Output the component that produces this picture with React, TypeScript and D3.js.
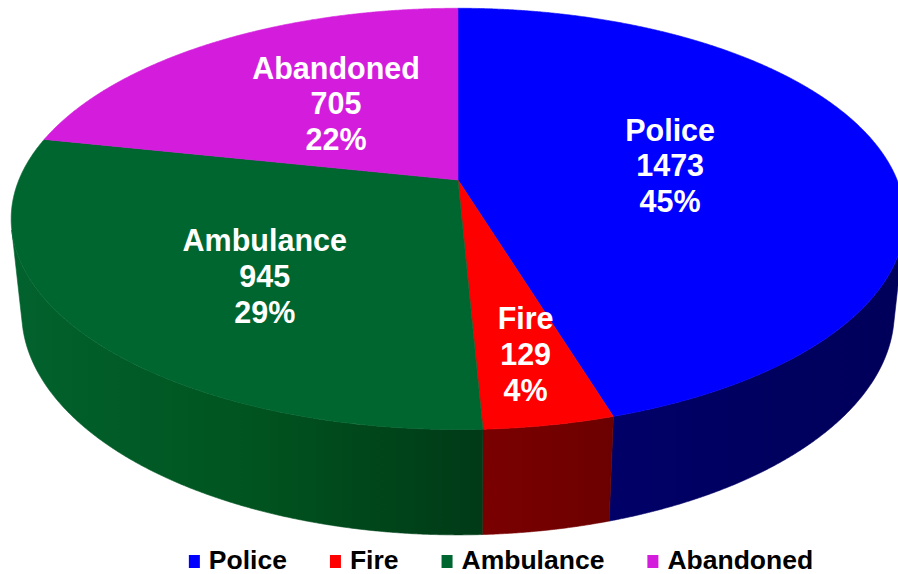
import React, { useRef, useEffect } from "react";
import * as d3 from "d3";

// chart data
const categories = ["Police", "Fire", "Ambulance", "Abandoned"];
const values = [1473, 129, 945, 705];

// styling per slice
const topColors = ["#0000FF", "#FF0000", "#006630", "#D41CDC"];
const wallStops = [
    ["#000068", "#000060", "#00005A"],
    ["#7A0000", "#740000", "#6C0000"],
    ["#02622D", "#00541F", "#003A17"],
    ["#8A1090", "#7C0C82", "#700A76"],
];
// where each label sits: fraction of radius, plus a small vertical nudge
const labelRadius = [0.495, 0.777, 0.54, 0.471];
const labelShiftY = [0, -7.5, 20, -7];

const W = 898;
const H = 574;
const FONT = "'Liberation Sans', Arial, sans-serif";

export default function App() {
    const svgRef = useRef<SVGSVGElement>(null);

    useEffect(() => {
        if (!svgRef.current) return;
        const svg = d3.select(svgRef.current);
        svg.selectAll("*").remove();

        // perspective camera for the tilted disc (unit radius)
        const cx = 458, cy = 180;
        const focal = 2107;
        const tilt = 27.6 * Math.PI / 180;
        const dist = 4.798;
        const thick = 0.242;
        const c = Math.cos(tilt), s = Math.sin(tilt);

        const project = (r: number, phi: number, h: number): [number, number] => {
            const X = r * Math.sin(phi);
            const Z = r * Math.cos(phi);
            const yc = h * c + Z * s;
            const depth = dist + Z * c - h * s;
            return [cx + focal * X / depth, cy - focal * yc / depth];
        };

        const total = d3.sum(values);
        const pie = d3.pie<number>().sort(null).startAngle(0).endAngle(2 * Math.PI);
        const arcs = pie(values);

        const step = Math.PI / 720;
        const sampleArc = (a0: number, a1: number, h: number) => {
            const n = Math.max(2, Math.ceil((a1 - a0) / step));
            return d3.range(n + 1).map(i => project(1, a0 + (a1 - a0) * i / n, h));
        };
        const line = d3.line<[number, number]>();

        const defs = svg.append("defs");

        // visible part of the outer wall
        const limit = Math.acos(-1 / (dist * c));
        const visA = limit, visB = 2 * Math.PI - limit;

        const walls = svg.append("g");
        arcs.forEach((a, i) => {
            const a0 = Math.max(a.startAngle, visA);
            const a1 = Math.min(a.endAngle, visB);
            if (a1 <= a0) return;
            const top = sampleArc(a0, a1, 0);
            const bottom = sampleArc(a0, a1, -thick).reverse();
            const pts = top.concat(bottom);
            const xs = pts.map(p => p[0]);
            const gid = `wall-${i}`;
            const grad = defs.append("linearGradient")
                .attr("id", gid)
                .attr("gradientUnits", "userSpaceOnUse")
                .attr("x1", d3.min(xs)!)
                .attr("x2", d3.max(xs)!)
                .attr("y1", 0)
                .attr("y2", 0);
            wallStops[i].forEach((col, k) => {
                grad.append("stop")
                    .attr("offset", k / (wallStops[i].length - 1))
                    .attr("stop-color", col);
            });
            walls.append("path")
                .attr("d", line(pts) + "Z")
                .attr("fill", `url(#${gid})`)
                .attr("stroke", `url(#${gid})`)
                .attr("stroke-width", 0.6);
        });

        // top faces
        const tops = svg.append("g");
        arcs.forEach((a, i) => {
            const pts = [project(0, 0, 0)].concat(sampleArc(a.startAngle, a.endAngle, 0));
            tops.append("path")
                .attr("d", line(pts) + "Z")
                .attr("fill", topColors[i])
                .attr("stroke", topColors[i])
                .attr("stroke-width", 0.6);
        });

        // data labels
        const fs = 30.5;
        const lh = 35.7;
        const labels = svg.append("g")
            .attr("font-family", FONT)
            .attr("font-weight", "bold")
            .attr("font-size", fs)
            .attr("fill", "#FFFFFF")
            .attr("text-anchor", "middle");
        arcs.forEach((a, i) => {
            const mid = (a.startAngle + a.endAngle) / 2;
            const [lx, ly0] = project(labelRadius[i], mid, 0);
            const ly = ly0 + labelShiftY[i] + 0.36 * fs;
            const pct = `${Math.round(values[i] / total * 100)}%`;
            [categories[i], String(values[i]), pct].forEach((t, k) => {
                labels.append("text")
                    .attr("x", lx)
                    .attr("y", ly + (k - 1) * lh)
                    .text(t);
            });
        });

        // legend
        const legend = svg.append("g")
            .attr("font-family", FONT)
            .attr("font-weight", "bold")
            .attr("font-size", 26.5)
            .attr("fill", "#000000");
        const sq = 11, gapIn = 9, gapOut = 43;
        const items = categories.map((name, i) => {
            const g = legend.append("g");
            g.append("rect")
                .attr("x", 0)
                .attr("y", -14)
                .attr("width", sq)
                .attr("height", sq + 2)
                .attr("fill", topColors[i]);
            const t = g.append("text")
                .attr("x", sq + gapIn)
                .attr("y", 0)
                .text(name);
            const w = (t.node() as SVGTextElement).getComputedTextLength();
            return { g, width: sq + gapIn + w };
        });
        const totalW = d3.sum(items, d => d.width) + gapOut * (items.length - 1);
        let x = 501 - totalW / 2;
        items.forEach(it => {
            it.g.attr("transform", `translate(${x},569)`);
            x += it.width + gapOut;
        });
    }, []);

    return (
        <svg
            ref={svgRef}
            width={W}
            height={H}
            style={{ position: "absolute", left: 0, top: 0, background: "#FFFFFF" }}
        />
    );
}
